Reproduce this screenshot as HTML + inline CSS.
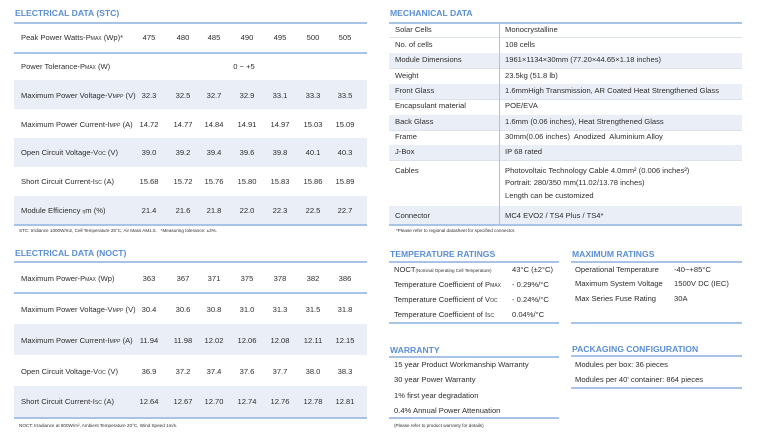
<!DOCTYPE html>
<html><head><meta charset="utf-8"><style>
*{margin:0;padding:0;box-sizing:border-box}
body{width:762px;height:439px;background:#fff;font-family:"Liberation Sans",sans-serif;color:#2e2e2e;position:relative;overflow:hidden;font-size:7.6px}
.a{position:absolute;white-space:nowrap}
.t{color:#5a8ed4;font-weight:bold;font-size:8.6px}
.ln{position:absolute;height:1.5px;background:#a9c3e6}
.sh{position:absolute;background:#eaeef6}
.gl{position:absolute;height:1px;background:#dde3ec}
.c{position:absolute;transform:translateX(-50%);white-space:nowrap}
.fn{font-size:4.6px}
small{font-size:5px}
</style></head><body>
<div class="a t" style="left:15px;top:8px">ELECTRICAL DATA (STC)</div>
<div class="ln" style="left:14px;top:22px;width:353px"></div>
<div class="ln" style="left:14px;top:52px;width:353px"></div>
<div class="sh" style="left:14px;top:80px;width:353px;height:29px"></div>
<div class="sh" style="left:14px;top:138px;width:353px;height:29px"></div>
<div class="sh" style="left:14px;top:196px;width:353px;height:29px"></div>
<div class="ln" style="left:14px;top:224px;width:353px"></div>
<div id="stc"></div>
<div class="a fn" style="left:19px;top:228px">STC: Irrdiance 1000W/m2, Cell Temperature 25°C, Air Mass AM1.5.&nbsp;&nbsp; *Measuring tolerance: ±3%.</div>
<div class="a t" style="left:15px;top:248px">ELECTRICAL DATA (NOCT)</div>
<div class="ln" style="left:14px;top:261px;width:353px"></div>
<div class="ln" style="left:14px;top:292px;width:353px"></div>
<div class="sh" style="left:14px;top:324px;width:353px;height:31px"></div>
<div class="sh" style="left:14px;top:386px;width:353px;height:31px"></div>
<div class="ln" style="left:14px;top:417px;width:353px"></div>
<div id="noct"></div>
<div class="a fn" style="left:19px;top:423px">NOCT: Irradiance at 800W/m², Ambient Temperature 20°C, Wind Speed 1m/s.</div>
<div class="a t" style="left:390px;top:8px">MECHANICAL DATA</div>
<div class="ln" style="left:389px;top:22px;width:353px"></div>
<div class="sh" style="left:389px;top:53px;width:353px;height:15px"></div>
<div class="sh" style="left:389px;top:84px;width:353px;height:15px"></div>
<div class="sh" style="left:389px;top:115px;width:353px;height:15px"></div>
<div class="sh" style="left:389px;top:145px;width:353px;height:15px"></div>
<div class="sh" style="left:389px;top:206px;width:353px;height:18px"></div>
<div class="gl" style="left:389px;top:37px;width:353px"></div>
<div class="gl" style="left:389px;top:68px;width:353px"></div>
<div class="gl" style="left:389px;top:99px;width:353px"></div>
<div class="gl" style="left:389px;top:130px;width:353px"></div>
<div class="gl" style="left:389px;top:160px;width:353px"></div>
<div class="ln" style="left:389px;top:224px;width:353px"></div>
<div style="position:absolute;left:499px;top:22px;width:1px;height:202px;background:#a9c3e6"></div>
<div id="mech"></div>
<div class="a fn" style="left:396px;top:228px">*Please refer to regional datasheet for specified connector.</div>
<div class="a t" style="left:390px;top:249px">TEMPERATURE RATINGS</div>
<div class="ln" style="left:389px;top:261px;width:170px"></div>
<div class="ln" style="left:389px;top:322px;width:170px"></div>
<div class="a" style="left:394px;top:265px">NOCT<span style="font-size:4.5px">(Nominal Operating Cell Temperature)</span></div>
<div class="a" style="left:512px;top:265px">43°C (±2°C)</div>
<div class="a" style="left:394px;top:280px">Temperature Coefficient of P<small>MAX</small></div><div class="a" style="left:512px;top:280px">- 0.29%/°C</div>
<div class="a" style="left:394px;top:295px">Temperature Coefficient of V<small>OC</small></div><div class="a" style="left:512px;top:295px">- 0.24%/°C</div>
<div class="a" style="left:394px;top:310px">Temperature Coefficient of I<small>SC</small></div><div class="a" style="left:512px;top:310px">0.04%/°C</div>
<div class="a t" style="left:572px;top:249px">MAXIMUM RATINGS</div>
<div class="ln" style="left:571px;top:261px;width:171px"></div>
<div class="ln" style="left:571px;top:322px;width:171px"></div>
<div class="a" style="left:575px;top:265px">Operational Temperature</div><div class="a" style="left:674px;top:265px">-40~+85°C</div>
<div class="a" style="left:575px;top:279px">Maximum System Voltage</div><div class="a" style="left:674px;top:279px">1500V DC (IEC)</div>
<div class="a" style="left:575px;top:294px">Max Series Fuse Rating</div><div class="a" style="left:674px;top:294px">30A</div>
<div class="a t" style="left:390px;top:345px">WARRANTY</div>
<div class="ln" style="left:389px;top:356px;width:170px"></div>
<div class="a" style="left:394px;top:360px">15 year Product Workmanship Warranty</div>
<div class="a" style="left:394px;top:375px">30 year Power Warranty</div>
<div class="a" style="left:394px;top:391px">1% first year degradation</div>
<div class="a" style="left:394px;top:406px">0.4% Annual Power Attenuation</div>
<div class="ln" style="left:389px;top:417px;width:170px"></div>
<div class="a fn" style="left:394px;top:423px">(Please refer to product warranty for details)</div>
<div class="a t" style="left:572px;top:344px">PACKAGING CONFIGURATION</div>
<div class="ln" style="left:571px;top:355px;width:171px"></div>
<div class="a" style="left:575px;top:360px">Modules per box: 36 pieces</div>
<div class="a" style="left:575px;top:375px">Modules per 40' container: 864 pieces</div>
<div class="ln" style="left:571px;top:387px;width:171px"></div>
<script>
var cx=[149,183,214,247,280,313,345];
function rows(id,data){var h='';data.forEach(function(r){h+='<div class="a" style="left:21px;top:'+(r[0]-5)+'px">'+r[1]+'</div>';if(r[2].length==1)h+='<div class="c" style="left:244px;top:'+(r[0]-5)+'px">'+r[2][0]+'</div>';else r[2].forEach(function(v,i){h+='<div class="c" style="left:'+cx[i]+'px;top:'+(r[0]-5)+'px">'+v+'</div>'});});document.getElementById(id).innerHTML=h;}
rows('stc',[[38,'Peak Power Watts-P<small>MAX</small> (Wp)*',['475','480','485','490','495','500','505']],
[67,'Power Tolerance-P<small>MAX</small> (W)',['0 ~ +5']],
[96,'Maximum Power Voltage-V<small>MPP</small> (V)',['32.3','32.5','32.7','32.9','33.1','33.3','33.5']],
[125,'Maximum Power Current-I<small>MPP</small> (A)',['14.72','14.77','14.84','14.91','14.97','15.03','15.09']],
[153,'Open Circuit Voltage-V<small>OC</small> (V)',['39.0','39.2','39.4','39.6','39.8','40.1','40.3']],
[182,'Short Circuit Current-I<small>SC</small> (A)',['15.68','15.72','15.76','15.80','15.83','15.86','15.89']],
[211,'Module Efficiency <small>η</small>m (%)',['21.4','21.6','21.8','22.0','22.3','22.5','22.7']]]);
rows('noct',[[279,'Maximum Power-P<small>MAX</small> (Wp)',['363','367','371','375','378','382','386']],
[310,'Maximum Power Voltage-V<small>MPP</small> (V)',['30.4','30.6','30.8','31.0','31.3','31.5','31.8']],
[341,'Maximum Power Current-I<small>MPP</small> (A)',['11.94','11.98','12.02','12.06','12.08','12.11','12.15']],
[372,'Open Circuit Voltage-V<small>OC</small> (V)',['36.9','37.2','37.4','37.6','37.7','38.0','38.3']],
[402,'Short Circuit Current-I<small>SC</small> (A)',['12.64','12.67','12.70','12.74','12.76','12.78','12.81']]]);
var m=[[30,'Solar Cells','Monocrystalline'],[45,'No. of cells','108 cells'],[60,'Module Dimensions','1961×1134×30mm (77.20×44.65×1.18 inches)'],[76,'Weight','23.5kg (51.8 lb)'],[91,'Front Glass','1.6mmHigh Transmission, AR Coated Heat Strengthened Glass'],[106,'Encapsulant material','POE/EVA'],[122,'Back Glass','1.6mm (0.06 inches), Heat Strengthened Glass'],[137,'Frame','30mm(0.06 inches)&nbsp; Anodized&nbsp; Aluminium Alloy'],[152,'J-Box','IP 68 rated'],[171,'Cables','Photovoltaic Technology Cable 4.0mm² (0.006 inches²)'],[183,'','Portrait: 280/350 mm(11.02/13.78 inches)'],[196,'','Length can be customized'],[216,'Connector','MC4 EVO2 / TS4 Plus / TS4*']];
var h='';m.forEach(function(r){h+='<div class="a" style="left:395px;top:'+(r[0]-5)+'px">'+r[1]+'</div><div class="a" style="left:505px;top:'+(r[0]-5)+'px">'+r[2]+'</div>'});document.getElementById('mech').innerHTML=h;
</script>
</body></html>
